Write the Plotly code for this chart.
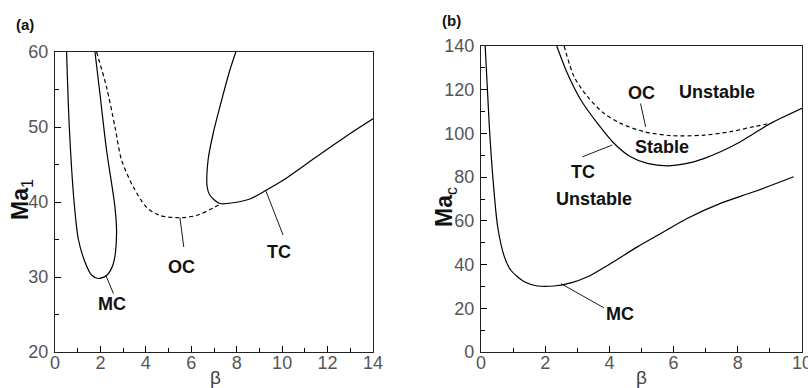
import plotly.graph_objects as go

# ---------- Panel (a) data ----------
a_mc_beta = [0.51, 0.63, 0.84, 1.03, 1.32, 1.60, 1.90, 2.27, 2.57, 2.71, 2.64, 2.27, 1.98, 1.76]
a_mc_ma   = [60.0, 50.0, 40.0, 35.0, 32.0, 30.3, 29.8, 30.2, 31.8, 35.8, 39.3, 46.9, 54.4, 60.0]

a_oc_beta = [1.83, 2.27, 2.64, 2.93, 3.45, 4.03, 4.62, 5.50, 6.23, 6.96, 7.26]
a_oc_ma   = [60.0, 55.3, 50.0, 45.6, 42.0, 39.3, 38.2, 37.9, 38.2, 39.2, 39.7]

a_tc_beta = [7.96, 7.70, 7.26, 6.96, 6.74, 6.70, 6.82, 7.26, 7.84, 8.58, 9.31, 10.04, 11.5, 12.98, 14.0]
a_tc_ma   = [60.0, 57.6, 52.7, 49.1, 45.6, 42.0, 40.9, 39.8, 39.9, 40.4, 41.6, 42.9, 46.0, 49.1, 51.1]

a_labels = ["MC", "OC", "TC"]
a_label_beta = [2.49, 5.57, 9.87]
a_label_ma = [26.4, 31.3, 33.3]
a_leader_beta = [[2.24, 2.57], [5.50, 5.67], [9.27, 10.04]]
a_leader_ma = [[30.2, 27.8], [37.9, 34.0], [41.6, 35.6]]

# ---------- Panel (b) data ----------
b_mc_beta = [0.13, 0.26, 0.36, 0.52, 0.73, 0.93, 1.35, 1.76, 2.28, 2.80, 3.32, 4.04, 4.87, 5.60, 6.42, 7.46, 8.50, 9.74]
b_mc_ma   = [140, 103, 81.7, 57.3, 43.5, 37.4, 32.1, 30.2, 30.2, 31.6, 34.4, 40.5, 48.1, 54.2, 61.1, 68.0, 73.3, 80.2]

b_tc_beta = [2.36, 2.69, 3.11, 3.63, 4.15, 4.66, 5.18, 5.80, 6.42, 6.94, 7.46, 7.98, 8.50, 9.02, 10.0]
b_tc_ma   = [140, 127.5, 115.3, 104.6, 95.4, 89.3, 86.3, 85.2, 86.3, 88.5, 91.6, 95.4, 100.0, 104.6, 111.5]

b_oc_beta = [2.59, 2.90, 3.32, 3.83, 4.35, 5.08, 5.91, 6.94, 7.77, 8.50, 8.91]
b_oc_ma   = [140, 126, 116.8, 109.2, 104.6, 100.8, 99.0, 99.2, 100.8, 103.1, 104.3]

b_labels = ["OC", "Unstable", "Stable", "TC", "Unstable", "MC"]
b_label_beta = [4.99, 7.36, 5.65, 3.19, 3.52, 4.33]
b_label_ma = [118.3, 119.1, 93.6, 82.4, 70.2, 17.5]
b_leader_beta = [[4.97, 5.13], [3.16, 4.09], [2.49, 3.83]]
b_leader_ma = [[113.7, 103.0], [89.3, 94.7], [31.3, 20.2]]

a_xticks = [0, 2, 4, 6, 8, 10, 12, 14]
a_yticks = [20, 30, 40, 50, 60]
b_xticks = [0, 2, 4, 6, 8, 10]
b_yticks = [0, 20, 40, 60, 80, 100, 120, 140]

LINE = dict(color="black", width=1.2)
DASH = dict(color="black", width=1.2, dash="4px,3px")
LEAD = dict(color="black", width=0.9)

fig = go.Figure()

def add(x, y, line, xa, ya):
    ln = line if line is LEAD else dict(line, shape="spline", smoothing=0.8)
    fig.add_trace(go.Scatter(x=x, y=y, mode="lines", line=ln,
                             xaxis=xa, yaxis=ya, showlegend=False, hoverinfo="skip"))

add(a_mc_beta, a_mc_ma, LINE, "x", "y")
add(a_oc_beta, a_oc_ma, DASH, "x", "y")
add(a_tc_beta, a_tc_ma, LINE, "x", "y")
for lx, ly in zip(a_leader_beta, a_leader_ma):
    add(lx, ly, LEAD, "x", "y")

add(b_mc_beta, b_mc_ma, LINE, "x2", "y2")
add(b_tc_beta, b_tc_ma, LINE, "x2", "y2")
add(b_oc_beta, b_oc_ma, DASH, "x2", "y2")
for lx, ly in zip(b_leader_beta, b_leader_ma):
    add(lx, ly, LEAD, "x2", "y2")

FONT = "Liberation Sans, Arial, sans-serif"
LBL = dict(family=FONT, size=18, color="#111")
W, H = 808, 388

ann = []
for t, x, y in zip(a_labels, a_label_beta, a_label_ma):
    ann.append(dict(text="<b>%s</b>" % t, x=x, y=y, xref="x", yref="y", showarrow=False, font=LBL))
for t, x, y in zip(b_labels, b_label_beta, b_label_ma):
    ann.append(dict(text="<b>%s</b>" % t, x=x, y=y, xref="x2", yref="y2", showarrow=False, font=LBL))

PANEL = dict(family=FONT, size=15, color="#111")
ann += [
    dict(text="<b>(a)</b>", x=25 / W, y=1 - 25 / H, xref="paper", yref="paper", showarrow=False, font=PANEL),
    dict(text="<b>(b)</b>", x=451 / W, y=1 - 20 / H, xref="paper", yref="paper", showarrow=False, font=PANEL),
    dict(text="<b>Ma</b><sub>1</sub>", x=22 / W, y=1 - 200 / H, xref="paper", yref="paper",
         showarrow=False, textangle=-90, font=dict(family=FONT, size=23, color="#111")),
    dict(text="<b>Ma</b><sub>c</sub>", x=445 / W, y=1 - 207 / H, xref="paper", yref="paper",
         showarrow=False, textangle=-90, font=dict(family=FONT, size=23, color="#111")),
    dict(text="β", x=215 / W, y=1 - 377 / H, xref="paper", yref="paper",
         showarrow=False, font=dict(family=FONT, size=19, color="#444")),
    dict(text="β", x=641 / W, y=1 - 377 / H, xref="paper", yref="paper",
         showarrow=False, font=dict(family=FONT, size=19, color="#444")),
]
for a in ann:
    a["xanchor"] = "center"
    a["yanchor"] = "middle"

TICKFONT = dict(family=FONT, size=18, color="#555")

def axis(domain, rng, tickvals, dminor, anchor):
    return dict(domain=domain, range=rng, tickvals=tickvals, ticks="inside", ticklen=6,
                tickwidth=1, tickcolor="black", showline=True, linecolor="#222", linewidth=1.3,
                mirror=True, showgrid=False, zeroline=False, tickfont=TICKFONT, anchor=anchor,
                ticklabeloverflow="allow",
                minor=dict(dtick=dminor, ticks="inside", ticklen=4, tickcolor="black", showgrid=False))

fig.update_layout(
    width=W, height=H, margin=dict(l=0, r=0, t=0, b=0, autoexpand=False),
    paper_bgcolor="white", plot_bgcolor="white",
    xaxis=axis([55 / W, 373 / W], [0, 14], a_xticks, 1, "y"),
    yaxis=axis([1 - 352 / H, 1 - 52 / H], [20, 60], a_yticks, 5, "x"),
    xaxis2=axis([481 / W, 802 / W], [0, 10], b_xticks, 1, "y2"),
    yaxis2=axis([1 - 352 / H, 1 - 46 / H], [0, 140], b_yticks, 10, "x2"),
    annotations=ann,
)
fig.update_xaxes(ticklabelstandoff=-6)
fig.update_yaxes(ticklabelstandoff=2)

fig.write_html("out.html")
